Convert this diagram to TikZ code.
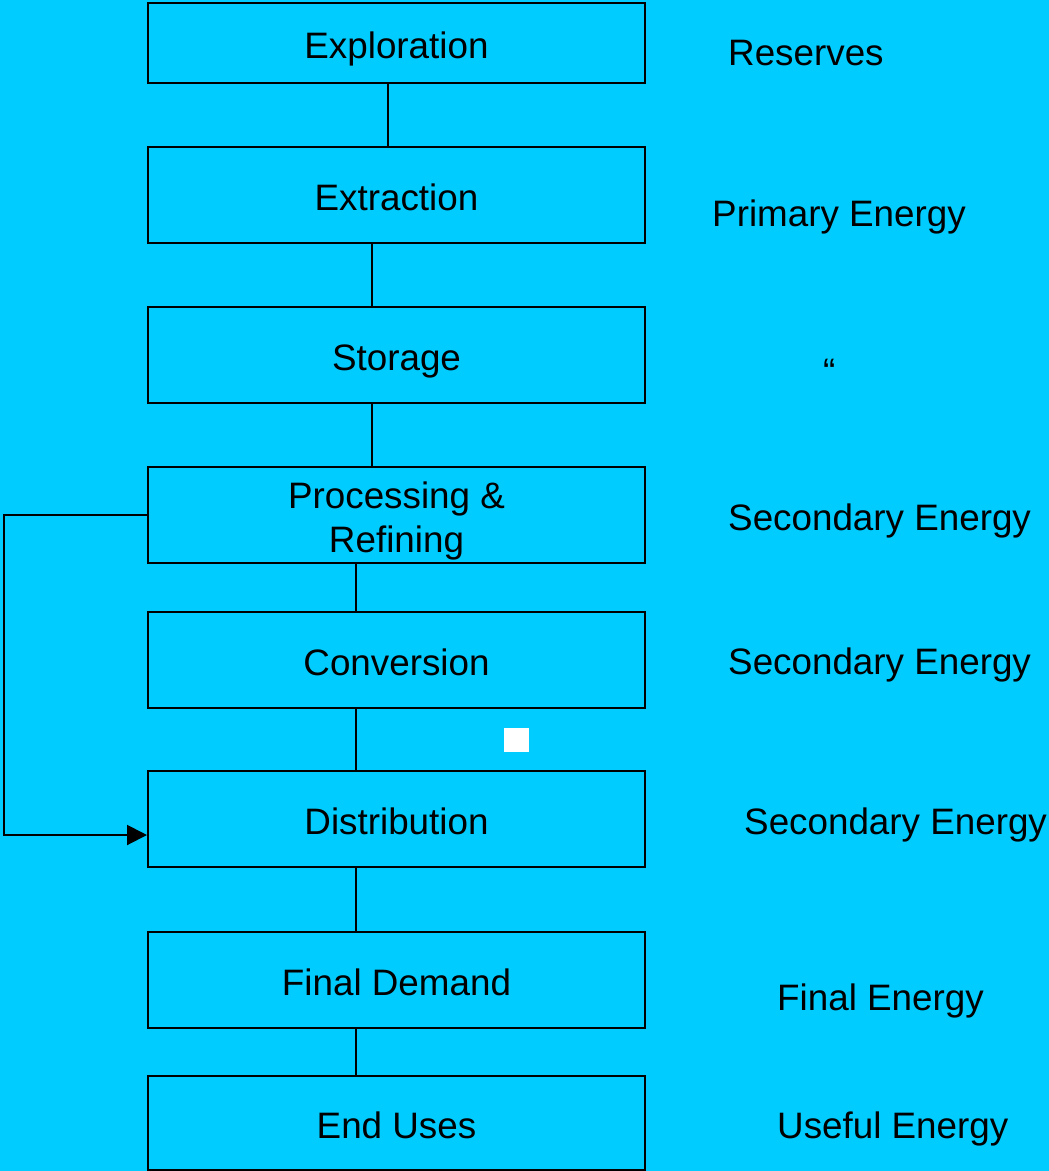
\documentclass[tikz,border=0pt]{standalone}
\usepackage{fontspec}
\setmainfont{Liberation Sans}
\usetikzlibrary{arrows.meta}
\definecolor{bg}{HTML}{00CCFF}
\begin{document}
\begin{tikzpicture}[x=1pt,y=-1pt,
  stagebox/.style={draw=black,line width=2pt,minimum width=497pt,inner sep=0pt,align=center,
    font=\fontsize{36.8}{44}\selectfont,text height=30pt,text depth=0pt},
  lbl/.style={anchor=base west,inner sep=0pt,font=\fontsize{36.8}{44}\selectfont},
  link/.style={draw=black,line width=2pt}]
\fill[bg] (0,0) rectangle (1049,1171);
\useasboundingbox (0,0) rectangle (1049,1171);
\node[stagebox,minimum height=80pt] (expl) at (396.5,43) {Exploration};
\node[stagebox,minimum height=96pt] (extr) at (396.5,195) {Extraction};
\node[stagebox,minimum height=96pt] (stor) at (396.5,355) {Storage};
\node[stagebox,minimum height=96pt,text height=74pt] (proc) at (396.5,515) {Processing \&\\Refining};
\node[stagebox,minimum height=96pt] (conv) at (396.5,660) {Conversion};
\node[stagebox,minimum height=96pt] (dist) at (396.5,819) {Distribution};
\node[stagebox,minimum height=96pt] (fdem) at (396.5,980) {Final Demand};
\node[stagebox,minimum height=94pt] (euse) at (396.5,1123) {End Uses};
\coordinate (xa) at (388,0);
\coordinate (xb) at (372,0);
\coordinate (xc) at (356,0);
\coordinate (xl) at (4,0);
\draw[link] (expl.south -| xa) -- (extr.north -| xa);
\draw[link] (extr.south -| xb) -- (stor.north -| xb);
\draw[link] (stor.south -| xb) -- (proc.north -| xb);
\draw[link] (proc.south -| xc) -- (conv.north -| xc);
\draw[link] (conv.south -| xc) -- (dist.north -| xc);
\draw[link] (dist.south -| xc) -- (fdem.north -| xc);
\draw[link] (fdem.south -| xc) -- (euse.north -| xc);
\coordinate (arrend) at ([yshift=-16pt]dist.west);
\draw[link,-{Triangle[length=20pt,width=20pt]}] (proc.west) -- (proc.west -| xl) |- (arrend);
\fill[white] (504,728) rectangle (529,752);
\node[lbl] (l1) at (728,65) {Reserves};
\node[lbl] (l2) at (712,226) {Primary Energy};
\node[lbl] (l3) at (823,384) {“};
\node[lbl] (l4) at (728,530) {Secondary Energy};
\node[lbl] (l5) at (728,674) {Secondary Energy};
\node[lbl] (l6) at (744,834) {Secondary Energy};
\node[lbl] (l7) at (777,1010) {Final Energy};
\node[lbl] (l8) at (777,1138) {Useful Energy};
\end{tikzpicture}
\end{document}
